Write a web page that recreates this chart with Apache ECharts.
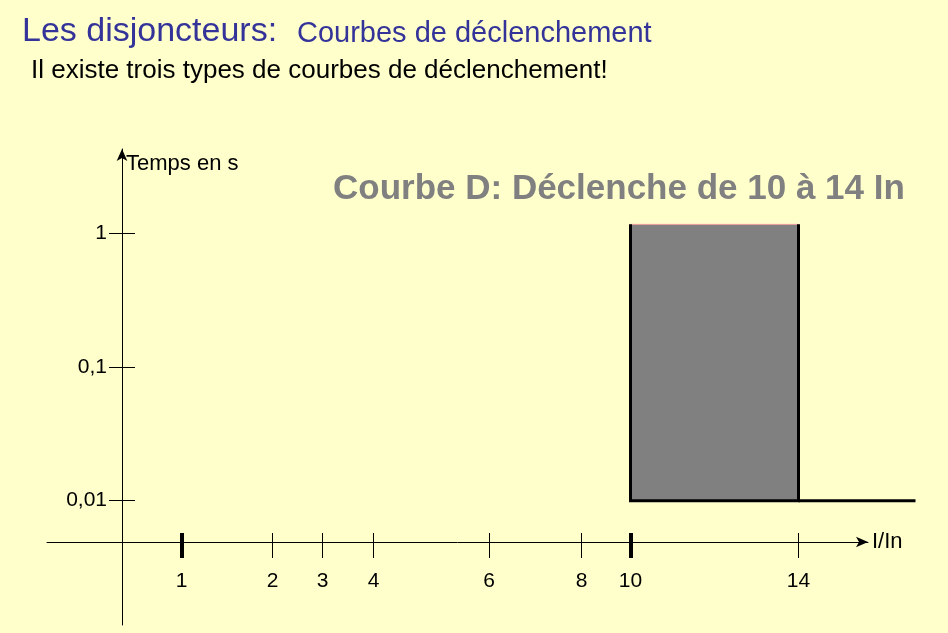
<!DOCTYPE html>
<html>
<head>
<meta charset="utf-8">
<script src="https://cdn.jsdelivr.net/npm/echarts@6/dist/echarts.min.js"></script>
<style>
html,body{margin:0;padding:0;background:#FFFFCC;}
#c{width:948px;height:633px;}
</style>
</head>
<body>
<div id="c"></div>
<script>
// ---- data ----
const xTickLabels = ['1', '2', '3', '4', '6', '8', '10', '14'];
const xTickPos = [1.19, 3.01, 4.01, 5.03, 7.34, 9.19, 10.17, 13.53]; // schematic (non-linear) I/In axis
const thickTickLabels = ['1', '10'];
const yTickValues = [0.01, 0.1, 1];
const yTickLabels = ['0,01', '0,1', '1'];
const tripFrom = '10';
const tripTo = '14';
const tripTime = [0.01, 1.16];   // bottom / top of the trip band (s)
const tailEnd = 15.87;           // end of the 0,01 s line beyond 14 In

const FONT = 'Arial, "Liberation Sans", sans-serif';
const posOf = l => xTickPos[xTickLabels.indexOf(l)];
const x10 = posOf(tripFrom), x14 = posOf(tripTo);
const thinPos = xTickLabels.filter(l => thickTickLabels.indexOf(l) < 0).map(posOf);
const thickPos = thickTickLabels.map(posOf);
const nearestLabel = (v, vals, labels) => {
  let bi = 0, bd = Infinity;
  vals.forEach((p, i) => { const d = Math.abs(p - v); if (d < bd) { bd = d; bi = i; } });
  return labels[bi];
};

const X_MIN = -1.5, X_MAX = 14.92, X_MAX_DATA = 15.88, Y_MIN = 0.001178, Y_MAX = 4.242;

const hidden = {
  splitLine: { show: false }, axisLabel: { show: false }, axisTick: { show: false },
  axisLine: { show: false, onZero: false }
};
const baseX = Object.assign({ type: 'value', min: X_MIN, max: X_MAX, gridIndex: 0 }, hidden);
const baseY = Object.assign({ type: 'log', logBase: 10, min: Y_MIN, max: Y_MAX, gridIndex: 0 }, hidden);

const chart = echarts.init(document.getElementById('c'), null, { renderer: 'canvas' });
chart.setOption({
  animation: false,
  backgroundColor: '#FFFFCC',
  grid: [
    { left: 47, right: 80, top: 149, bottom: 8, containLabel: false },
    { left: 47, right: 32, top: 149, bottom: 8, containLabel: false }
  ],
  xAxis: [
    Object.assign({}, baseX, {
      position: 'bottom', offset: -83,
      axisLine: { show: true, onZero: false, symbol: ['none', 'arrow'], symbolSize: [8, 12], lineStyle: { color: '#000', width: 1 } },
      axisLabel: {
        show: true, customValues: xTickPos, margin: 29, fontSize: 21, color: '#000', fontFamily: FONT,
        formatter: v => nearestLabel(v, xTickPos, xTickLabels)
      },
      name: 'I/In', nameLocation: 'end', nameGap: 4,
      nameTextStyle: { fontSize: 22, color: '#000', fontFamily: FONT, align: 'left', verticalAlign: 'middle', padding: [0, 0, 9, 0] }
    }),
    Object.assign({}, baseX, {
      position: 'bottom', offset: -67,
      axisTick: { show: true, inside: true, length: 25, customValues: thinPos, lineStyle: { color: '#000', width: 1 } }
    }),
    Object.assign({}, baseX, {
      position: 'bottom', offset: -67,
      axisTick: { show: true, inside: true, length: 25, customValues: thickPos, lineStyle: { color: '#000', width: 4 } }
    }),
    Object.assign({}, baseX, { gridIndex: 1, max: X_MAX_DATA })
  ],
  yAxis: [
    Object.assign({}, baseY, {
      position: 'left', offset: -75,
      axisLine: { show: true, onZero: false, symbol: ['none', 'arrow'], symbolSize: [8, 12], lineStyle: { color: '#000', width: 1 } }
    }),
    Object.assign({}, baseY, {
      position: 'left', offset: -62,
      axisTick: { show: true, inside: true, length: 26, customValues: yTickValues, lineStyle: { color: '#000', width: 1 } },
      axisLabel: {
        show: true, customValues: yTickValues, margin: 2, fontSize: 21, color: '#000', fontFamily: FONT,
        formatter: v => nearestLabel(Math.log10(v), yTickValues.map(Math.log10), yTickLabels)
      }
    }),
    Object.assign({}, baseY, { gridIndex: 1 })
  ],
  series: [
    {
      type: 'line', name: 'seuil', xAxisIndex: 3, yAxisIndex: 2,
      data: [[x14, tripTime[0]], [tailEnd, tripTime[0]]],
      symbol: 'none', z: 3,
      lineStyle: { color: '#000', width: 3, cap: 'butt' },
      markArea: {
        silent: true,
        itemStyle: { color: '#808080', borderColor: '#F2A0A0', borderWidth: 1 },
        data: [[{ coord: [x10, tripTime[1]] }, { coord: [x14, tripTime[0]] }]]
      }
    },
    {
      type: 'line', name: 'Courbe D', xAxisIndex: 3, yAxisIndex: 2,
      data: [[x10, tripTime[1]], [x10, tripTime[0]], [x14, tripTime[0]], [x14, tripTime[1]]],
      symbol: 'none', z: 4,
      lineStyle: { color: '#000', width: 3, join: 'miter', cap: 'butt' }
    }
  ],
  graphic: [
    { type: 'text', x: 22, y: 31.5, style: { text: 'Les disjoncteurs:', font: '34px ' + FONT, fill: '#333399', verticalAlign: 'middle' } },
    { type: 'text', x: 297, y: 34, style: { text: 'Courbes de déclenchement', font: '29px ' + FONT, fill: '#333399', verticalAlign: 'middle' } },
    { type: 'text', x: 31, y: 70.9, style: { text: 'Il existe trois types de courbes de déclenchement!', font: '26px ' + FONT, fill: '#000', verticalAlign: 'middle' } },
    { type: 'text', x: 333, y: 189.5, style: { text: 'Courbe D: Déclenche de 10 à 14 In', font: 'bold 35px ' + FONT, fill: '#808080', verticalAlign: 'middle' } },
    { type: 'text', x: 126, y: 164, style: { text: 'Temps en s', font: '22px ' + FONT, fill: '#000', verticalAlign: 'middle' } }
  ]
});
</script>
</body>
</html>
